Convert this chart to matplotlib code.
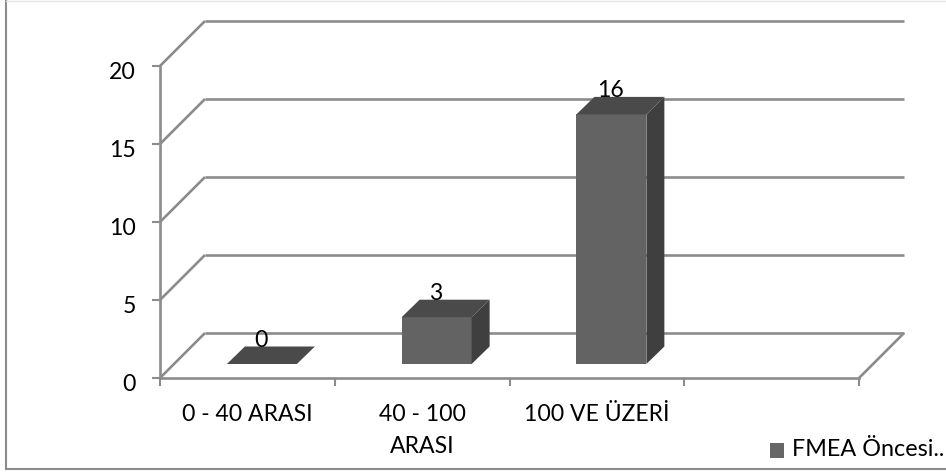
import matplotlib
matplotlib.use("Agg")
import matplotlib.pyplot as plt
from matplotlib.lines import Line2D
from matplotlib.patches import Polygon, Rectangle
from matplotlib.transforms import ScaledTranslation

categories = ["0 - 40 ARASI", "40 - 100\nARASI", "100 VE ÜZERİ"]
values = [0, 3, 16]
y_ticks = [0, 5, 10, 15, 20]
series_name = "FMEA Öncesi.."

W, H = 946, 475
plt.rcParams["font.family"] = ["Lato", "DejaVu Sans"]

fig = plt.figure(figsize=(W / 100, H / 100), dpi=100)

# front plane of the 3D box, in pixels
left, right, bottom, top = 160, 859, 378, 66
ax = fig.add_axes([left / W, 1 - bottom / H, (right - left) / W, (bottom - top) / H])
ax.set_xlim(0, 4)
ax.set_ylim(0, 20)
ax.patch.set_visible(False)

GRID = "#8c8c8c"
FONT = 16.6
px_x = 4 / (right - left)
px_y = 20 / (bottom - top)
wall_x, wall_y = 45 * px_x, 45 * px_y       # depth of the box
bar_x, bar_y = 14.5 * px_x, 14 * px_y       # where the bars stand in the box
side_x, side_y = 18 * px_x, 17.5 * px_y     # depth of a bar
bar_w = 70 * px_x


def line(xs, ys):
    ax.plot(xs, ys, color=GRID, lw=1.9, clip_on=False, zorder=1, solid_capstyle="butt")


# back wall grid lines and the slanted side wall lines
for v in y_ticks:
    line([0, wall_x], [v, v + wall_y])
    line([wall_x, 4 + wall_x], [v + wall_y, v + wall_y])
line([4, 4 + wall_x], [0, wall_y])

for i, v in enumerate(values):
    x0 = i + 0.5 - bar_w / 2 + bar_x
    x1 = x0 + bar_w
    y0 = bar_y
    y1 = bar_y + v
    front = Rectangle((x0, y0), bar_w, v, fc="#636363", ec="none", zorder=3, clip_on=False)
    side = Polygon([(x1, y0), (x1 + side_x, y0 + side_y), (x1 + side_x, y1 + side_y), (x1, y1)],
                   fc="#3f3f3f", ec="none", zorder=3, clip_on=False)
    roof = Polygon([(x0, y1), (x0 + side_x, y1 + side_y), (x1 + side_x, y1 + side_y), (x1, y1)],
                   fc="#4a4a4a", ec="none", zorder=3, clip_on=False)
    ax.add_patch(front)
    ax.add_patch(side)
    ax.add_patch(roof)
    ax.text(i + 0.5 + bar_x - 0.005, y1 + side_y - 0.28, str(v), ha="center", va="bottom",
            fontsize=FONT, color="black", zorder=4, clip_on=False)

for s in ["top", "right"]:
    ax.spines[s].set_visible(False)
for s in ["left", "bottom"]:
    ax.spines[s].set_color(GRID)
    ax.spines[s].set_linewidth(1.9)

ax.set_yticks(y_ticks)
ax.set_xticks([0, 1, 2, 3, 4])
ax.set_xticklabels([])
ax.set_xticks([0.5, 1.5, 2.5], minor=True)
ax.set_xticklabels(categories, minor=True, fontsize=FONT, linespacing=1.68)
ax.tick_params(axis="x", which="major", length=5.5, width=1.5, color=GRID)
ax.tick_params(axis="x", which="minor", length=0, pad=18.5)
ax.tick_params(axis="y", length=5.5, width=1.5, color=GRID, labelsize=FONT, pad=12)

# y labels sit a little under their ticks
shift = ScaledTranslation(0, -4.5 / 100, fig.dpi_scale_trans)
for lab in ax.get_yticklabels():
    lab.set_transform(lab.get_transform() + shift)

# legend in the lower right corner
fig.patches.append(Rectangle((770 / W, 1 - 458 / H), 14 / W, 15 / H, fc="#666666", ec="none",
                             transform=fig.transFigure))
fig.text(792 / W, 1 - 450 / H, series_name, fontsize=FONT + 0.2, va="center", ha="left")

# chart frame: left and bottom edges run to the image border, top edge is faint
fig.add_artist(Line2D([5.5 / W, 5.5 / W], [1 - 469 / H, 1], color=GRID, lw=1.5))
fig.add_artist(Line2D([5.5 / W, 1], [1 - 469 / H, 1 - 469 / H], color=GRID, lw=1.5))
fig.add_artist(Line2D([5.5 / W, 1], [1 - 0.5 / H, 1 - 0.5 / H], color="#e4e4e4", lw=1))

fig.savefig("out.png", dpi=100)
